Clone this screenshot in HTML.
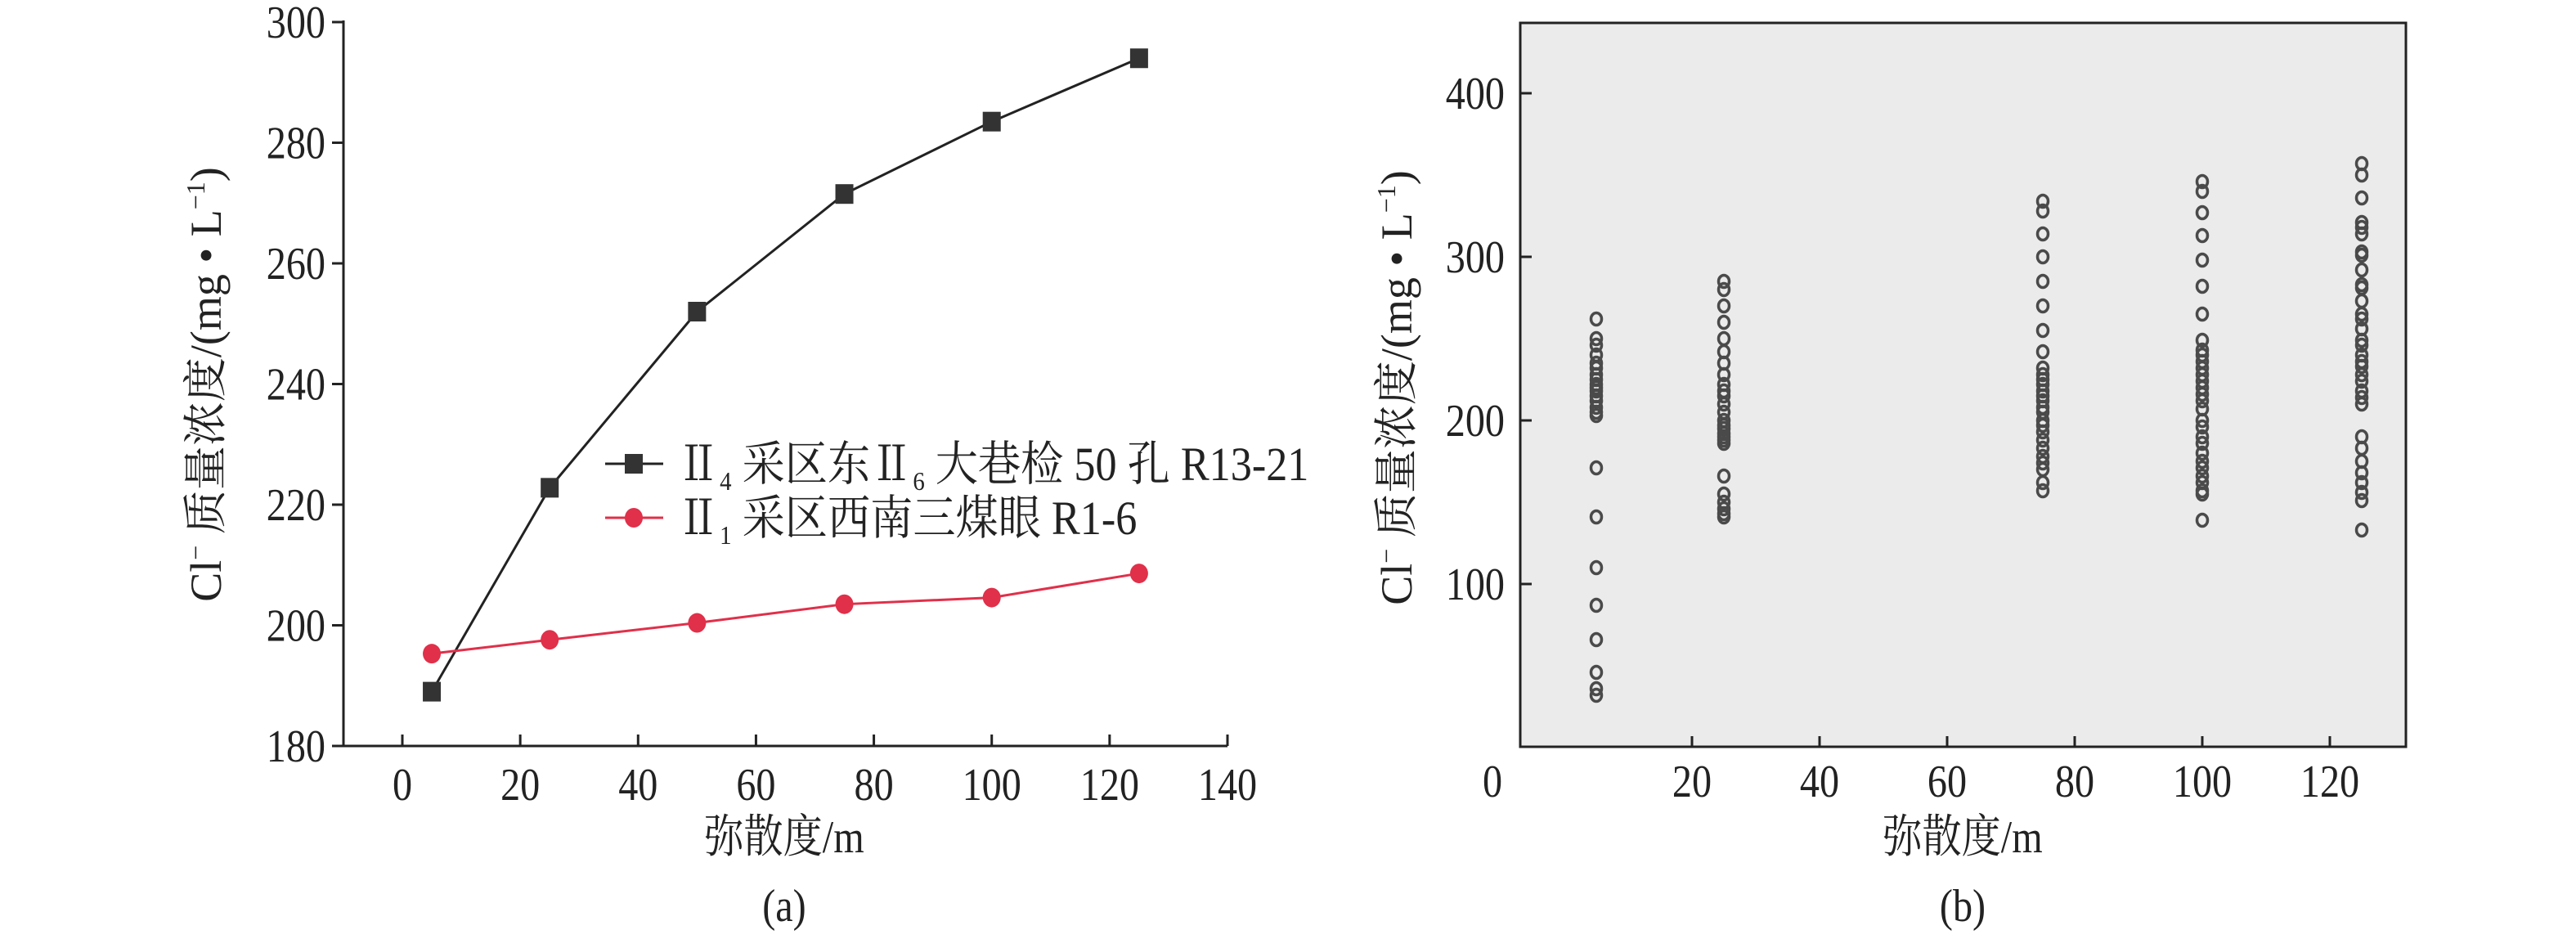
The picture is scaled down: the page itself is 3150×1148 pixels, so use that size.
<!DOCTYPE html>
<html><head><meta charset="utf-8"><style>
html,body{margin:0;padding:0;background:#fff}
svg text{font-family:"Liberation Serif","Noto Serif CJK SC",serif;fill:#222}
</style></head><body>
<svg width="3150" height="1143" viewBox="0 0 3150 1143" xmlns="http://www.w3.org/2000/svg">
<g id="pa"></g>
<g id="pb"></g>
</svg>
<script>
const aX = [5, 25, 50, 75, 100, 125];
const aBlack = [189, 222.8, 252, 271.5, 283.5, 294];
const aRed = [195.3, 197.6, 200.4, 203.5, 204.6, 208.6];
const aXTicks = [0, 20, 40, 60, 80, 100, 120, 140];
const aYTicks = [180, 200, 220, 240, 260, 280, 300];
const bXTicks = [20, 40, 60, 80, 100, 120];
const bYTicks = [100, 200, 300, 400];
const bCats = [5, 25, 75, 100, 125];
const b5 = [262,250,246,240,235,232,228,225,222,220,218,215,212,208,205,203,171,141,110,87,66,46,36,32];
const b25 = [285,280,270,260,250,242,235,228,222,218,215,210,205,200,197,195,192,190,188,186,166,155,150,146,143,141];
const b75 = [334,328,314,300,285,270,255,242,232,228,225,222,218,215,212,208,205,200,197,193,188,183,178,174,170,162,157];
const b100 = [346,340,327,313,298,282,265,249,243,240,236,232,228,224,220,216,212,207,200,196,190,186,180,175,171,166,162,157,155,139];
const b125 = [357,350,336,321,318,314,303,301,292,283,281,273,265,262,256,249,246,240,236,233,228,224,218,214,210,190,183,175,168,162,156,151,133];
const bSeries = [b5, b25, b75, b100, b125];

const NS = "http://www.w3.org/2000/svg";
function mk(parent, tag, attrs, text) {
  const e = document.createElementNS(NS, tag);
  for (const k in attrs) e.setAttribute(k, attrs[k]);
  if (text !== undefined) e.textContent = text;
  parent.appendChild(e);
  return e;
}
function lab(parent, x, y, anchor, txt) {
  return mk(parent, 'text', {x: 0, y: 0, 'font-size': 56, 'text-anchor': anchor, transform: 'translate(' + x + ',' + y + ') scale(0.86,1)'}, txt);
}
// Panel A
const pa = document.getElementById('pa');
const ax = v => 492 + (v - 0) * (1501 - 492) / 140;
const ay = v => 912 - (v - 180) * (912 - 27) / 120;
let e;
e = mk(pa, 'line', {x1: 420, y1: 912, x2: 1501, y2: 912, stroke: '#222', 'stroke-width': 3});


e = mk(pa, 'line', {x1: 420, y1: 912, x2: 420, y2: 25, stroke: '#222', 'stroke-width': 3});


aXTicks.forEach(t => {
  mk(pa, 'line', {x1: ax(t), y1: 912, x2: ax(t), y2: 898, stroke: '#222', 'stroke-width': 3});
  e = lab(pa, ax(t), 978, 'middle', t);
  
  
});
aYTicks.forEach(t => {
  mk(pa, 'line', {x1: 420, y1: ay(t), x2: 406, y2: ay(t), stroke: '#222', 'stroke-width': 3});
  e = lab(pa, 398, ay(t) + 19, 'end', t);
  
  
});
function pl(xs, ys) {
  return xs.map((x, i) => ax(x) + ',' + ay(ys[i])).join(' ');
}
e = mk(pa, 'polyline', {points: pl(aX, aBlack), fill: 'none', stroke: '#222', 'stroke-width': 3});


e = mk(pa, 'polyline', {points: pl(aX, aRed), fill: 'none', stroke: '#e0304a', 'stroke-width': 3});


aX.forEach((x, i) => {
  e = mk(pa, 'rect', {x: ax(x) - 11, y: ay(aBlack[i]) - 12, width: 22, height: 24, fill: '#333'});
  
  
  e = mk(pa, 'ellipse', {cx: ax(x), cy: ay(aRed[i]), rx: 11, ry: 12, fill: '#e0304a'});
  
  
});
// legend
mk(pa, 'line', {x1: 740, y1: 567, x2: 811, y2: 567, stroke: '#222', 'stroke-width': 3});
mk(pa, 'rect', {x: 764, y: 555, width: 22, height: 24, fill: '#333'});
e = mk(pa, 'text', {x: 0, y: 0, 'font-size': 58, transform: 'translate(828,587) scale(0.9,1)'});


e.innerHTML = 'Ⅱ<tspan font-size="32" dy="12">4</tspan><tspan dy="-12"> 采区东Ⅱ</tspan><tspan font-size="32" dy="12">6</tspan><tspan dy="-12"> 大巷检 50 孔 R13-21</tspan>';
mk(pa, 'line', {x1: 740, y1: 633, x2: 811, y2: 633, stroke: '#e0304a', 'stroke-width': 3});
mk(pa, 'ellipse', {cx: 775, cy: 633, rx: 11, ry: 12, fill: '#e0304a'});
e = mk(pa, 'text', {x: 0, y: 0, 'font-size': 58, transform: 'translate(828,653) scale(0.9,1)'});


e.innerHTML = 'Ⅱ<tspan font-size="32" dy="12">1</tspan><tspan dy="-12"> 采区西南三煤眼 R1-6</tspan>';
const ytitle = 'Cl<tspan font-size="32" dy="-20">−</tspan><tspan dy="20"> 质量浓度/(mg • L</tspan><tspan font-size="32" dy="-20">−1</tspan><tspan dy="20">)</tspan>';
e = mk(pa, 'text', {x: 0, y: 0, 'font-size': 54, 'text-anchor': 'middle', transform: 'translate(270,470) rotate(-90)'});


e.innerHTML = ytitle;
e = lab(pa, 959, 1042, 'middle', '弥散度/m');


e = lab(pa, 959, 1126, 'middle', '(a)');



// Panel B
const pb = document.getElementById('pb');
const bx = v => 1913 + v * 156 / 20;
const by = v => 914 - v * 2;
e = mk(pb, 'rect', {x: 1859, y: 28, width: 1083, height: 885, fill: '#ebebeb', stroke: '#222', 'stroke-width': 3});


bXTicks.forEach(t => {
  mk(pb, 'line', {x1: bx(t), y1: 913, x2: bx(t), y2: 900, stroke: '#222', 'stroke-width': 3});
  e = lab(pb, bx(t), 974, 'middle', t);
  
  
});
e = lab(pb, 1825, 974, 'middle', '0');


bYTicks.forEach(t => {
  mk(pb, 'line', {x1: 1859, y1: by(t), x2: 1873, y2: by(t), stroke: '#222', 'stroke-width': 3});
  e = lab(pb, 1840, by(t) + 19, 'end', t);
  
  
});
bCats.forEach((c, i) => {
  bSeries[i].forEach(v => {
    e = mk(pb, 'ellipse', {cx: bx(c), cy: by(v), rx: 6.5, ry: 7.5, fill: 'none', stroke: '#4a4a4a', 'stroke-width': 3.5});
    
    
  });
});
e = mk(pb, 'text', {x: 0, y: 0, 'font-size': 54, 'text-anchor': 'middle', transform: 'translate(1726,474) rotate(-90)'});


e.innerHTML = ytitle;
e = lab(pb, 2400, 1042, 'middle', '弥散度/m');


e = lab(pb, 2400, 1126, 'middle', '(b)');


</script>
</body></html>
